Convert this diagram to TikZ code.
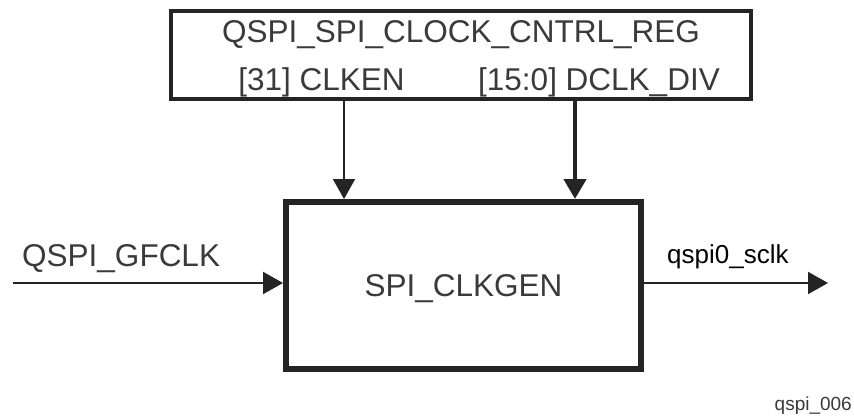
\documentclass[tikz,border=0pt]{standalone}
\usepackage{fontspec}
\setmainfont{Liberation Sans}
\usetikzlibrary{arrows.meta}
\definecolor{inkgray}{RGB}{58,58,58}
\definecolor{edgegray}{RGB}{36,36,36}

\begin{document}
\begin{tikzpicture}[x=1pt,y=-1pt,>={Triangle[length=20pt,width=22pt]},
  font=\fontsize{31.5}{36}\selectfont,text=inkgray,
  lbl/.style={inner sep=0pt},
  sig/.style={draw=edgegray,line width=2pt,->},
  bus/.style={draw=edgegray,line width=4.5pt,->}]
\useasboundingbox[fill=white] (0,0) rectangle (854,417);
% 寄存器框
\node[draw=edgegray,line width=4pt,minimum width=580pt,minimum height=88pt,inner sep=0pt] (reg) at (461,55) {};
\node[lbl,anchor=base] (regname) at (461,43) {QSPI\_SPI\_CLOCK\_CNTRL\_REG};
\node[lbl,anchor=base] (clken) at (321.5,91) {[31] CLKEN};
\node[lbl,anchor=base] (dclkdiv) at (599,91) {[15:0] DCLK\_DIV};
% 时钟生成模块
\node[draw=edgegray,line width=6pt,minimum width=355pt,minimum height=167pt,
  text height=22pt,text depth=0pt] (gen) at (463.5,285.5) {SPI\_CLKGEN};
% 寄存器字段到模块
\coordinate (enx) at (344,150);
\coordinate (divx) at (575,150);
\draw[sig] (reg.south -| enx) -- (gen.north -| enx);
\draw[bus] (reg.south -| divx) -- (gen.north -| divx);
% 输入时钟
\coordinate (clkin) at (13,283);
\draw[sig] (clkin) -- (clkin -| gen.west);
\node[lbl,anchor=base west] (gfclk) at (22,266) {QSPI\_GFCLK};
% 输出时钟
\coordinate (clkout) at (828,283);
\draw[sig] (gen.east |- clkout) -- (clkout);
\node[lbl,anchor=base west,text=black,font=\fontsize{26}{30}\selectfont] (sclk) at (667,263) {qspi0\_sclk};
% 图号
\node[lbl,anchor=base east,font=\fontsize{19}{22}\selectfont] (fignum) at (852,410) {qspi\_006};
\end{tikzpicture}
\end{document}
